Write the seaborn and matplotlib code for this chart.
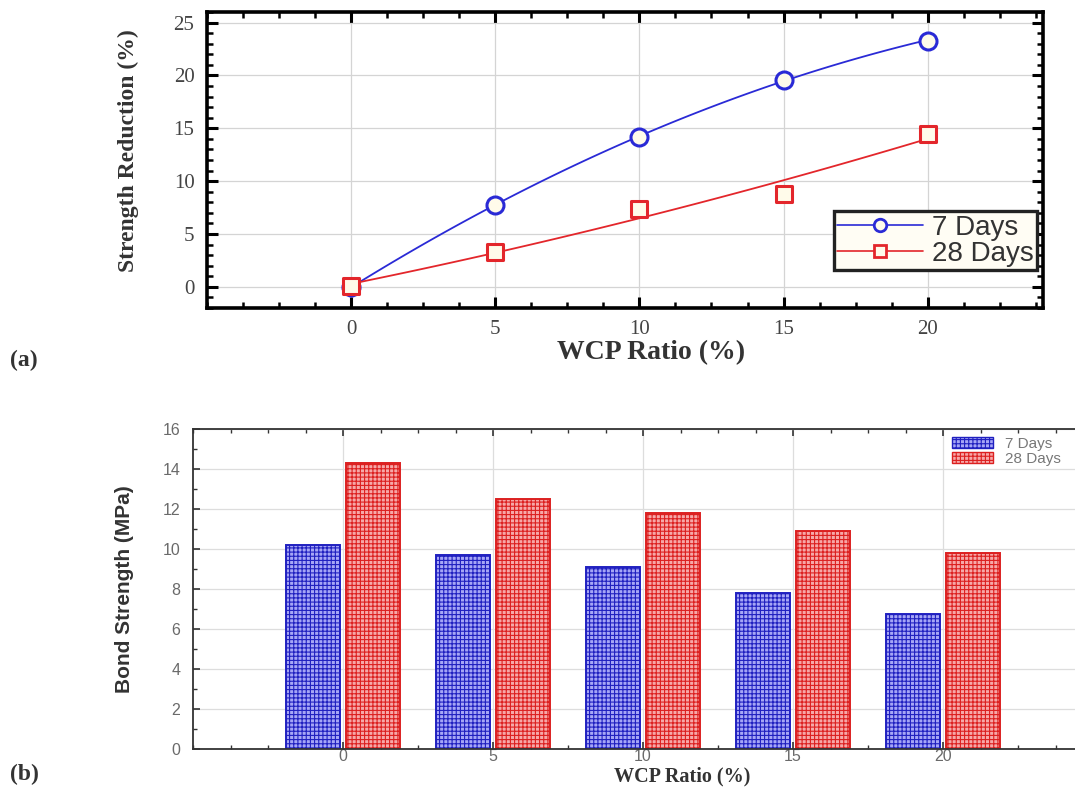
import numpy as np
import pandas as pd
import matplotlib
matplotlib.use("Agg")
import matplotlib.pyplot as plt
import seaborn as sns
from matplotlib.ticker import MultipleLocator
from matplotlib.lines import Line2D
from matplotlib.patches import Patch

# ---- data -------------------------------------------------------------
wcp_ratio = [0, 5, 10, 15, 20]
series_labels = ["7 Days", "28 Days"]

# (a) strength reduction (%)
reduction_7d = [0.0, 7.7, 14.2, 19.6, 23.3]
reduction_28d = [0.1, 3.3, 7.4, 8.8, 14.5]

# (b) bond strength (MPa)
bond_7d = [10.2, 9.7, 9.1, 7.8, 6.75]
bond_28d = [14.3, 12.5, 11.8, 10.9, 9.8]

# ---- style ------------------------------------------------------------
sns.set_theme(style="white")
plt.rcParams["font.family"] = ["Liberation Serif", "DejaVu Serif"]
plt.rcParams["hatch.linewidth"] = 0.8

W, H = 1075, 787
fig = plt.figure(figsize=(W / 100, H / 100), dpi=100)


def box(l, t, r, b):
    return [l / W, 1 - b / H, (r - l) / W, (b - t) / H]


ax1 = fig.add_axes(box(207, 12, 1043, 308))
ax2 = fig.add_axes(box(193, 429, 1093, 749))

blue = "#2a2ad6"
red = "#e3262b"
marker_fill = "#fffbea"

# ---- (a) line chart with quadratic trend -----------------------------
top = pd.DataFrame({
    "wcp": wcp_ratio * 2,
    "reduction": reduction_7d + reduction_28d,
    "age": [series_labels[0]] * 5 + [series_labels[1]] * 5,
})
for lab, col, mk, size in [(series_labels[0], blue, "o", 150),
                           (series_labels[1], red, "s", 130)]:
    sub = top[top["age"] == lab]
    sns.regplot(data=sub, x="wcp", y="reduction", order=2, ci=None,
                scatter=False, ax=ax1,
                line_kws=dict(color=col, lw=1.3, zorder=2))
    sns.scatterplot(data=sub, x="wcp", y="reduction", marker=mk, s=size,
                    facecolor=marker_fill, edgecolor=col, linewidth=2.2,
                    ax=ax1, zorder=3, legend=False)

ax1.set_xlim(-5, 24)
ax1.set_ylim(-2, 26)
ax1.set_xticks(wcp_ratio)
ax1.set_yticks([0, 5, 10, 15, 20, 25])
ax1.xaxis.set_minor_locator(MultipleLocator(1.25))
ax1.yaxis.set_minor_locator(MultipleLocator(1))
ax1.grid(True, which="major", color="#d4d4d4", lw=0.9)
ax1.set_axisbelow(True)
for sp in ax1.spines.values():
    sp.set_linewidth(2.6)
    sp.set_color("black")
ax1.tick_params(which="both", direction="in", top=True, right=True,
                bottom=True, left=True, color="black")
ax1.tick_params(which="major", length=8, width=2.2, labelsize=15,
                labelcolor="#444444", pad=9)
ax1.tick_params(which="minor", length=4, width=1.8)

ax1.set_xlabel("WCP Ratio (%)", fontsize=20, fontweight="bold", color="#333333")
ax1.set_ylabel("Strength Reduction (%)", fontsize=17, fontweight="bold",
               color="#333333")
ax1.xaxis.set_label_coords(0.531, -0.108)
ax1.yaxis.set_label_coords(-0.081, 0.53)

handles_a = [
    Line2D([], [], color=blue, lw=1.2, marker="o", markersize=9,
           markerfacecolor=marker_fill, markeredgecolor=blue, markeredgewidth=2.0),
    Line2D([], [], color=red, lw=1.2, marker="s", markersize=8.5,
           markerfacecolor=marker_fill, markeredgecolor=red, markeredgewidth=2.0),
]
leg1 = ax1.legend(handles_a, series_labels, loc="lower right",
                  bbox_to_anchor=(0.9925, 0.128), borderaxespad=0,
                  prop=dict(family="Liberation Sans", size=20),
                  frameon=True, fancybox=False, framealpha=1,
                  facecolor="#fffdf4", edgecolor="#222222",
                  handlelength=3.1, handletextpad=0.3, labelspacing=0.0,
                  borderpad=0.12)
leg1.get_frame().set_linewidth(2.4)
for t in leg1.get_texts():
    t.set_color("#333333")

# ---- (b) grouped bar chart -------------------------------------------
bond = pd.DataFrame({
    "wcp": wcp_ratio * 2,
    "bond": bond_7d + bond_28d,
    "age": [series_labels[0]] * 5 + [series_labels[1]] * 5,
})
bar_face = {series_labels[0]: "#a6a6f6", series_labels[1]: "#f6a8a8"}
bar_edge = {series_labels[0]: "#2020c0", series_labels[1]: "#dc2020"}
sns.barplot(data=bond, x="wcp", y="bond", hue="age", native_scale=True,
            palette=bar_face, saturation=1, width=0.8, gap=0.1,
            errorbar=None, legend=False, ax=ax2, zorder=2)

for p in ax2.patches:
    fc = p.get_facecolor()
    for key in series_labels:
        if np.allclose(fc, matplotlib.colors.to_rgba(bar_face[key]), atol=0.01):
            p.set_edgecolor(bar_edge[key])
            p.set_hatch("++++")
            p.set_linewidth(1.4)

ax2.set_xlim(-5, 25)
ax2.set_ylim(0, 16)
ax2.set_xticks(wcp_ratio)
ax2.xaxis.set_minor_locator(MultipleLocator(1.25))
ax2.yaxis.set_major_locator(MultipleLocator(2))
ax2.yaxis.set_minor_locator(MultipleLocator(1))
ax2.grid(True, which="major", color="#dddddd", lw=0.9)
ax2.set_axisbelow(True)
for sp in ax2.spines.values():
    sp.set_linewidth(1.3)
    sp.set_color("#333333")
ax2.tick_params(which="both", direction="in", top=True, right=True,
                bottom=True, left=True, color="#333333")
ax2.tick_params(which="major", length=5, width=1.2, labelsize=11.5,
                labelcolor="#6a6a6a")
ax2.tick_params(axis="x", which="major", pad=0)
ax2.tick_params(axis="y", which="major", pad=9)
ax2.tick_params(which="minor", length=3, width=1.0)
for lbl in ax2.get_xticklabels() + ax2.get_yticklabels():
    lbl.set_fontfamily("Liberation Sans")

ax2.set_xlabel("WCP Ratio (%)", fontsize=14.5, fontweight="bold", color="#333333")
ax2.xaxis.label.set_verticalalignment("bottom")
ax2.set_ylabel("Bond Strength (MPa)", fontsize=15, fontweight="bold",
               color="#333333",
               fontfamily=["Liberation Sans Narrow", "Liberation Sans"])
ax2.xaxis.set_label_coords(0.544, -37.5 / 320)
ax2.yaxis.set_label_coords(-0.066, 0.5)

handles_b = [Patch(facecolor=bar_face[k], edgecolor=bar_edge[k], hatch="++++",
                   linewidth=1.0) for k in series_labels]
leg2 = ax2.legend(handles_b, series_labels, loc="upper left",
                  bbox_to_anchor=(0.836, 0.995), borderaxespad=0,
                  frameon=False, prop=dict(family="Liberation Sans", size=11),
                  handlelength=2.7, handleheight=0.8, handletextpad=0.8,
                  labelspacing=0.05)
for t in leg2.get_texts():
    t.set_color("#777777")

# ---- panel tags --------------------------------------------------------
fig.text(10 / W, 1 - 360 / H, "(a)", fontsize=17, fontweight="bold",
         va="center", ha="left", color="#333333")
fig.text(10 / W, 1 - 774 / H, "(b)", fontsize=17, fontweight="bold",
         va="center", ha="left", color="#333333")

fig.savefig("out.png", dpi=100)
